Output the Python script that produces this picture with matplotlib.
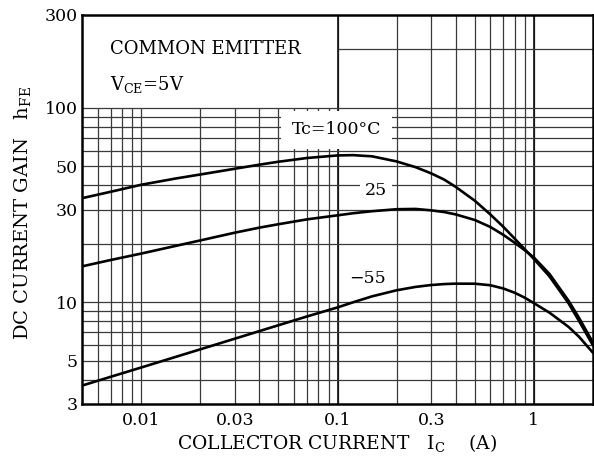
import matplotlib
matplotlib.use("Agg")
import matplotlib.pyplot as plt
from matplotlib.ticker import FixedLocator, FixedFormatter, NullLocator

plt.rcParams["font.family"] = "DejaVu Serif"
plt.rcParams["mathtext.default"] = "regular"

# collector current (A) and DC current gain at three case temperatures
ic = [0.005, 0.007, 0.01, 0.015, 0.02, 0.03, 0.04, 0.05, 0.07, 0.1, 0.12,
      0.15, 0.2, 0.25, 0.3, 0.35, 0.4, 0.5, 0.6, 0.7, 0.8, 0.9, 1.0, 1.2,
      1.5, 1.7, 2.0]
hfe_100 = [34.3, 37.0, 40.2, 43.3, 45.4, 48.6, 51.0, 52.8, 55.2, 56.9, 57.1,
           56.3, 53.0, 49.5, 46.0, 42.7, 39.2, 33.3, 28.3, 24.4, 21.2, 18.7,
           16.7, 13.6, 9.9, 8.0, 6.0]
hfe_25 = [15.3, 16.5, 17.8, 19.5, 20.8, 22.8, 24.2, 25.2, 26.7, 28.0, 28.7,
          29.4, 30.1, 30.2, 29.7, 29.1, 28.3, 26.5, 24.4, 22.2, 20.2, 18.5,
          17.0, 14.0, 10.2, 8.3, 6.2]
hfe_m55 = [3.73, 4.14, 4.62, 5.24, 5.73, 6.50, 7.11, 7.62, 8.46, 9.41, 10.0,
           10.73, 11.53, 12.0, 12.27, 12.41, 12.47, 12.46, 12.24, 11.77, 11.19,
           10.55, 9.9, 8.85, 7.48, 6.64, 5.5]

x_ticks = [0.01, 0.03, 0.1, 0.3, 1]
x_tick_labels = ["0.01", "0.03", "0.1", "0.3", "1"]
y_ticks = [3, 5, 10, 30, 50, 100, 300]
y_tick_labels = ["3", "5", "10", "30", "50", "100", "300"]

# chart-paper grid
x_grid = [0.006, 0.007, 0.008, 0.009, 0.01, 0.02, 0.03, 0.04, 0.05, 0.06, 0.07,
          0.08, 0.09, 0.1, 0.2, 0.3, 0.4, 0.5, 0.6, 0.7, 0.8, 0.9, 1.0]
x_grid_top = [0.1, 0.2, 0.3, 0.4, 0.5, 0.6, 0.7, 0.8, 0.9, 1.0]
y_grid = [4, 5, 6, 7, 8, 9, 10, 20, 30, 40, 50, 60, 70, 80, 90, 100]

fig = plt.figure(figsize=(5.94, 4.57), dpi=100)
ax = fig.add_axes([82 / 594, 1 - 404 / 457, 511 / 594, 389 / 457])
ax.set_xscale("log")
ax.set_yscale("log")
ax.set_xlim(0.005, 2)
ax.set_ylim(3, 300)

gc = "#3a3a3a"
ax.vlines(x_grid, 3, 100, color=gc, lw=0.9, zorder=1)
ax.vlines(x_grid_top, 100, 300, color=gc, lw=0.9, zorder=1)
ax.vlines([0.1, 1.0], 3, 300, color="#111111", lw=1.2, zorder=1)
ax.hlines(y_grid, 0.005, 2, color=gc, lw=0.9, zorder=1)
ax.hlines([200], 0.1, 2, color=gc, lw=0.9, zorder=1)

for hfe in (hfe_100, hfe_25, hfe_m55):
    ax.plot(ic, hfe, color="black", lw=1.9, zorder=3, solid_capstyle="round")

ax.text(0.099, 77, "Tc=100°C", fontsize=12.5, ha="center", va="center",
        bbox=dict(facecolor="white", edgecolor="none", boxstyle="square,pad=0.6"),
        zorder=4)
ax.text(0.157, 37.5, "25", fontsize=12.5, ha="center", va="center",
        bbox=dict(facecolor="white", edgecolor="none", boxstyle="square,pad=0.3"),
        zorder=4)
ax.text(0.142, 13.2, "\u221255", fontsize=12.5, ha="center", va="center", zorder=4)

ax.text(0.055, 0.901, "COMMON EMITTER", fontsize=13, transform=ax.transAxes,
        va="baseline")
ax.text(0.055, 0.807, "V$_{CE}$=5V", fontsize=13, transform=ax.transAxes,
        va="baseline")

ax.xaxis.set_major_locator(FixedLocator(x_ticks))
ax.xaxis.set_major_formatter(FixedFormatter(x_tick_labels))
ax.xaxis.set_minor_locator(NullLocator())
ax.yaxis.set_major_locator(FixedLocator(y_ticks))
ax.yaxis.set_major_formatter(FixedFormatter(y_tick_labels))
ax.yaxis.set_minor_locator(NullLocator())
ax.tick_params(axis="both", length=0, labelsize=12.5)
ax.tick_params(axis="x", pad=6)
ax.tick_params(axis="y", pad=3)

for s in ax.spines.values():
    s.set_linewidth(1.8)
    s.set_zorder(5)

ax.set_xlabel("COLLECTOR CURRENT   I$_{C}$    (A)", fontsize=13.5, labelpad=2)
ax.set_ylabel("DC CURRENT GAIN   h$_{FE}$", fontsize=14)
ax.yaxis.set_label_coords(-0.095, 0.49)

fig.savefig("out.png", dpi=100)
